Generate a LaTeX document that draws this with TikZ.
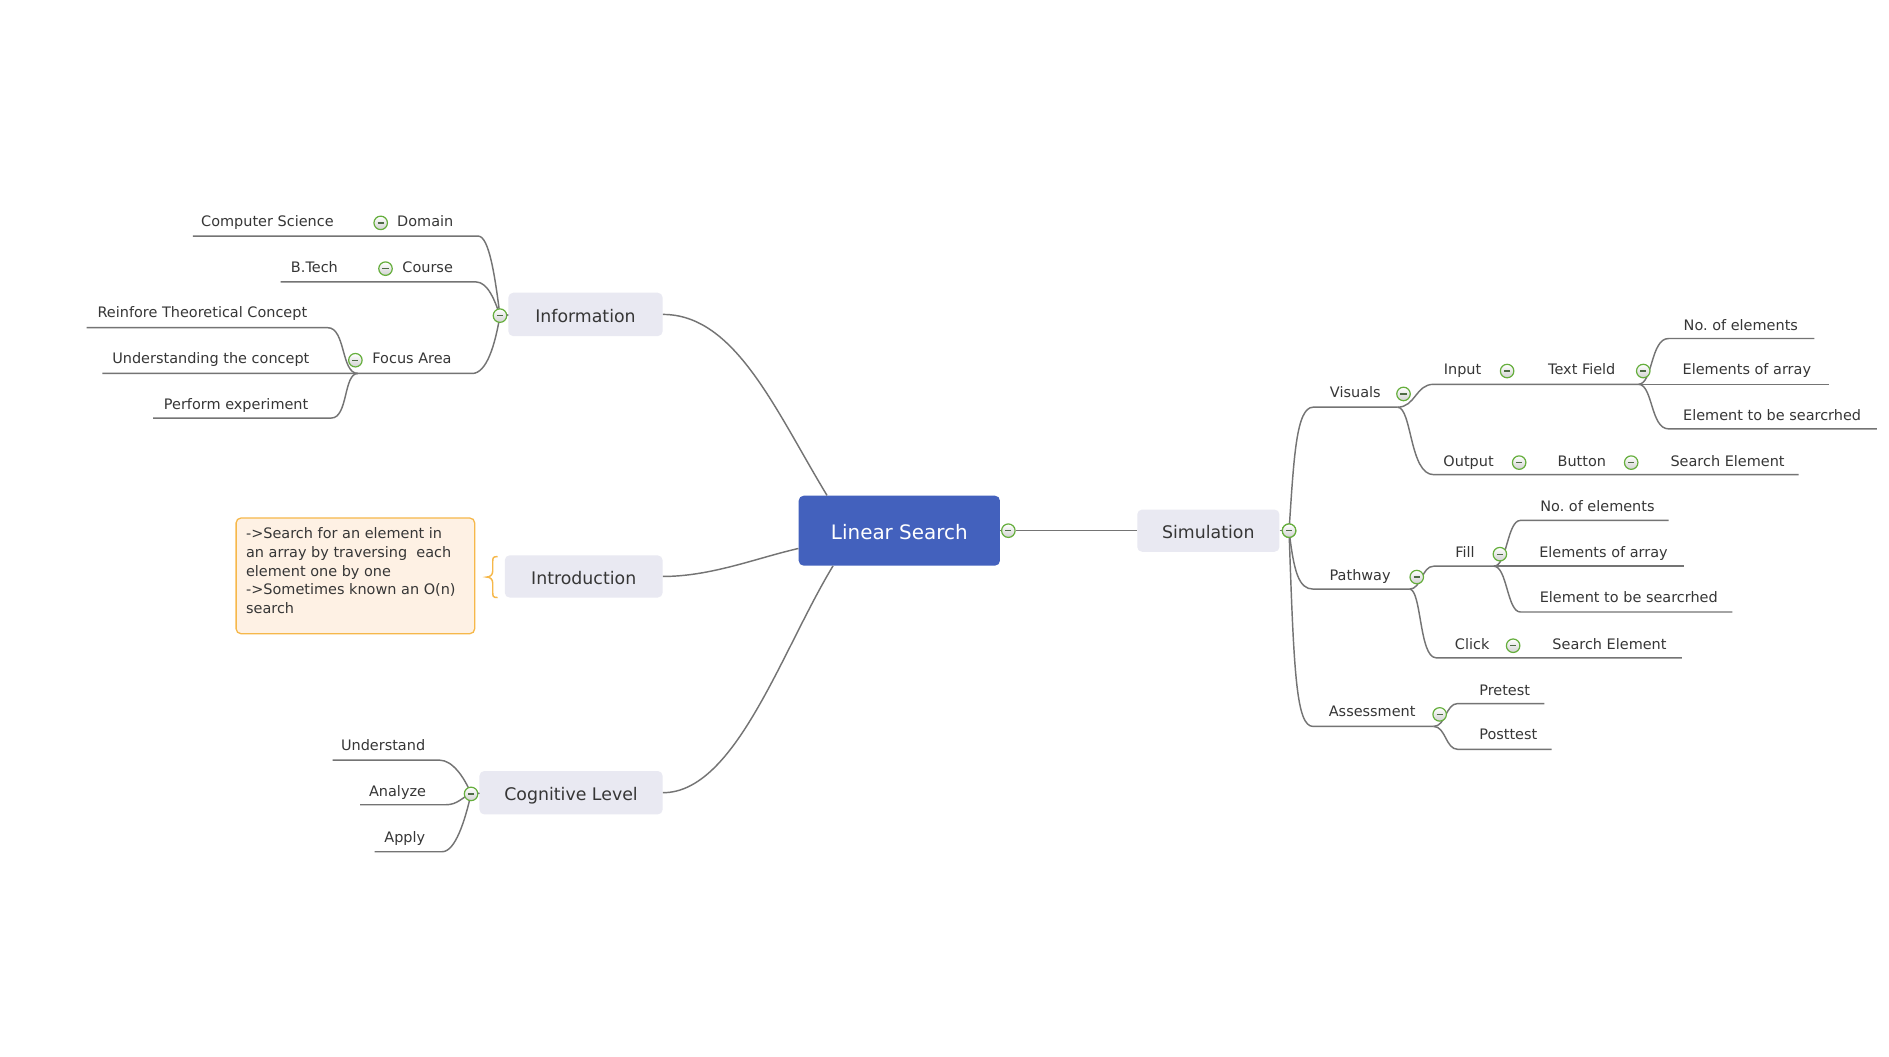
\documentclass[tikz,border=0pt]{standalone}
\usepackage{fontspec}
\setmainfont{DejaVu Sans}
\frenchspacing
\definecolor{connc}{HTML}{747474}
\definecolor{txtc}{HTML}{363636}
\definecolor{topicfill}{HTML}{E9E9F2}
\definecolor{lsblue}{HTML}{4361BD}
\definecolor{notefill}{HTML}{FEF1E4}
\definecolor{notedraw}{HTML}{F6B84A}
\definecolor{btngreen}{HTML}{65AE3C}
\definecolor{minusc}{HTML}{4E6B45}
\newcommand{\mymin}{\textcolor{minusc}{\rule{3.8pt}{0.8pt}}}
\tikzset{
  conn/.style={draw=connc, line width=0.9pt},
  lbl/.style={font=\fontsize{9}{10}\selectfont, text=txtc, inner sep=0pt, text height=6.6pt, text depth=2pt, yshift=-1.4pt},
  topic/.style={fill=topicfill, rounded corners=3pt, inner sep=0pt, font=\fontsize{10.8}{12}\selectfont, text=txtc,
    text height=10pt, text depth=0pt},
  btn/.style={circle, draw=btngreen, line width=0.75pt, minimum size=8.4pt, inner sep=0pt,
    top color=white, bottom color=black!18},
}
\begin{document}
\begin{tikzpicture}[x=0.75pt,y=-0.75pt]
\useasboundingbox (0,0) rectangle (1568,877);
\fill[white] (0,0) rectangle (1568,877);

% ---------------- central ----------------
\node[fill=lsblue, rounded corners=3pt, minimum width=125.25pt, minimum height=43.5pt, inner sep=0pt,
  text=white, font=\fontsize{12.4}{14}\selectfont, text height=11pt, text depth=0pt] (ls) at (746.5,440.5) {Linear Search};
\node[topic, minimum width=96pt, minimum height=27pt] (info) at (486,261) {Information};
\node[topic, minimum width=98.25pt, minimum height=26.25pt] (intro) at (484.5,478.5) {Introduction};
\node[topic, minimum width=114pt, minimum height=27pt] (cog) at (474,658) {Cognitive Level};
\node[topic, minimum width=88.5pt, minimum height=26.25pt] (sim) at (1003,440.5) {Simulation};

\draw[conn] (info.east) .. controls +(60,0) and +(-43,-71) .. (ls.154);
\draw[conn] (intro.east) .. controls +(40,0) and +(-35,8) .. (ls.190);
\draw[conn] (cog.east) .. controls +(60,0) and +(-43,71) .. (ls.208);

\node[btn] (bls) at (837,440.5) {\mymin};
\node[btn] (bsim) at (1070,440.5) {\mymin};
\draw[conn] (ls.east) -- (bls.west);
\draw[conn] (bls.east) -- (sim.west);
\draw[conn] (sim.east) -- (bsim.west);

% ---------------- Information branch ----------------
\coordinate (dom-l) at (160,196); \coordinate (dom-r) at (397,196);
\coordinate (crs-l) at (233,234); \coordinate (crs-r) at (395,234);
\coordinate (foc-l) at (297,310); \coordinate (foc-r) at (392,310);
\coordinate (rei-l) at (72,272);  \coordinate (rei-r) at (272,272);
\coordinate (und-l) at (85,310);
\coordinate (per-l) at (127,347); \coordinate (per-r) at (275,347);
\coordinate (jinfo) at (415,262);

\draw[conn] (dom-l) -- (dom-r) .. controls +(9,0) and +(-4,-32) .. (jinfo);
\draw[conn] (crs-l) -- (crs-r) .. controls +(10,0) and +(-4,-12) .. (jinfo);
\draw[conn] (und-l) -- (foc-r) .. controls +(12,0) and +(-4,24) .. (jinfo);
\draw[conn] (rei-l) -- (rei-r) .. controls +(15,0) and +(-14,0) .. (foc-l);
\draw[conn] (per-l) -- (per-r) .. controls +(14,0) and +(-12,0) .. (foc-l);

\node[btn] (binfo) at (jinfo) {\mymin};
\draw[conn] (binfo.east) -- (info.west);
\node[lbl] (tcs) at (222,183) {Computer Science};
\node[lbl] (tdom) at (353,183) {Domain};
\node[btn] (bdom) at (316,185) {\mymin};
\node[lbl] (tbt) at (261,221) {B.Tech};
\node[lbl] (tcrs) at (355,221) {Course};
\node[btn] (bcrs) at (320,223) {\mymin};
\node[lbl] (trei) at (168,259) {Reinfore Theoretical Concept};
\node[lbl] (tund) at (175,297) {Understanding the concept};
\node[lbl] (tfoc) at (342,297) {Focus Area};
\node[btn] (bfoc) at (295,299) {\mymin};
\node[lbl] (tper) at (196,335) {Perform experiment};

% ---------------- Introduction note ----------------
\node[draw=notedraw, fill=notefill, line width=0.8pt, rounded corners=3pt, minimum width=148.5pt,
  minimum height=72pt, inner sep=0pt] (note) at (295,478) {};
\node[anchor=north west, inner sep=0pt, align=left, text=txtc,
  font=\fontsize{9}{11.6}\selectfont] (notetext) at (204,438)
  {->Search for an element in\\an array by traversing~ each\\element one by one\\->Sometimes known an O(n)\\search};
\coordinate (br-t) at (413,462);
\coordinate (br-b) at (413,496);
\draw[notedraw, line width=0.9pt] (br-t) .. controls +(-4,0) and +(0,-4) .. (409,467) -- (409,474)
  .. controls +(0,3) and +(3,0) .. (404,479) .. controls +(3,0) and +(0,-3) .. (409,484)
  -- (409,491) .. controls +(0,4) and +(-4,0) .. (br-b);

% ---------------- Cognitive branch ----------------
\coordinate (jcog) at (391,659);
\coordinate (usd-l) at (276,631); \coordinate (usd-r) at (365,631);
\coordinate (ana-l) at (299,668); \coordinate (ana-r) at (370,668);
\coordinate (app-l) at (311,707); \coordinate (app-r) at (367,707);
\draw[conn] (usd-l) -- (usd-r) .. controls +(10,0) and +(-6,-15) .. (jcog);
\draw[conn] (ana-l) -- (ana-r) .. controls +(10,0) and +(-8,3) .. (jcog);
\draw[conn] (app-l) -- (app-r) .. controls +(11,0) and +(-5,22) .. (jcog);
\node[btn] (bcog) at (jcog) {\mymin};
\draw[conn] (bcog.east) -- (cog.west);
\node[lbl] (tusd) at (318,618) {Understand};
\node[lbl] (tana) at (330,656) {Analyze};
\node[lbl] (tapp) at (336,694) {Apply};

% ---------------- Simulation branch ----------------
\coordinate (vis-l) at (1090,338); \coordinate (vis-r) at (1160,338);
\coordinate (pat-l) at (1090,489); \coordinate (pat-r) at (1170,489);
\coordinate (ass-l) at (1090,603); \coordinate (ass-r) at (1190,603);
\draw[conn] (bsim.center) .. controls +(4,-61) and +(-14,0) .. (vis-l) -- (vis-r);
\draw[conn] (bsim.center) .. controls +(4,34) and +(-12,0) .. (pat-l) -- (pat-r);
\draw[conn] (bsim.center) .. controls +(4,119) and +(-14,0) .. (ass-l) -- (ass-r);
\node[btn] at (bsim) {\mymin};

% Visuals
\coordinate (inp-l) at (1190,319); \coordinate (tf-r) at (1360,319);
\coordinate (out-l) at (1190,394); \coordinate (out-r) at (1493,394);
\draw[conn] (vis-r) .. controls +(15,0) and +(-15,0) .. (inp-l) -- (tf-r);
\draw[conn] (vis-r) .. controls +(12,0) and +(-20,0) .. (out-l) -- (out-r);
\coordinate (noe1-l) at (1385,281); \coordinate (noe1-r) at (1506,281);
\coordinate (eoa1-r) at (1518,319);
\coordinate (ets1-l) at (1385,356); \coordinate (ets1-r) at (1558,356);
\draw[conn] (tf-r) .. controls +(12,0) and +(-15,0) .. (noe1-l) -- (noe1-r);
\draw[conn] (tf-r) -- (eoa1-r);
\draw[conn] (tf-r) .. controls +(12,0) and +(-15,0) .. (ets1-l) -- (ets1-r);

% Pathway
\coordinate (fill-l) at (1190,470); \coordinate (fill-r) at (1240,470);
\coordinate (clk-l) at (1192,546); \coordinate (clk-r) at (1396,546);
\draw[conn] (pat-r) .. controls +(10,0) and +(-10,0) .. (fill-l) -- (fill-r);
\draw[conn] (pat-r) .. controls +(10,0) and +(-14,0) .. (clk-l) -- (clk-r);
\coordinate (noe2-l) at (1262,432); \coordinate (noe2-r) at (1385,432);
\coordinate (eoa2-r) at (1398,470);
\coordinate (ets2-l) at (1262,508); \coordinate (ets2-r) at (1438,508);
\draw[conn] (fill-r) .. controls +(11,0) and +(-11,0) .. (noe2-l) -- (noe2-r);
\draw[conn] (fill-r) -- (eoa2-r);
\draw[conn] (fill-r) .. controls +(11,0) and +(-11,0) .. (ets2-l) -- (ets2-r);

% Assessment
\coordinate (pre-l) at (1210,584); \coordinate (pre-r) at (1282,584);
\coordinate (pos-l) at (1210,622); \coordinate (pos-r) at (1288,622);
\draw[conn] (ass-r) .. controls +(10,0) and +(-10,0) .. (pre-l) -- (pre-r);
\draw[conn] (ass-r) .. controls +(10,0) and +(-10,0) .. (pos-l) -- (pos-r);

% labels right
\node[lbl] (tvis) at (1125,325) {Visuals};
\node[btn] (bvis) at (1165,327) {\mymin};
\node[lbl] (tinp) at (1214,306) {Input};
\node[btn] (binp) at (1251,308) {\mymin};
\node[lbl] (ttf) at (1313,306) {Text Field};
\node[btn] (btf) at (1364,308) {\mymin};
\node[lbl] (tnoe1) at (1445,269) {No. of elements};
\node[lbl] (teoa1) at (1450,306) {Elements of array};
\node[lbl] (tets1) at (1471,344) {Element to be searcrhed};
\node[lbl] (tout) at (1219,382) {Output};
\node[btn] (bout) at (1261,384) {\mymin};
\node[lbl] (tbtn) at (1313,382) {Button};
\node[btn] (bbtn) at (1354,384) {\mymin};
\node[lbl] (tse1) at (1434,382) {Search Element};
\node[lbl] (tpat) at (1129,477) {Pathway};
\node[btn] (bpat) at (1176,479) {\mymin};
\node[lbl] (tfill) at (1216,458) {Fill};
\node[btn] (bfill) at (1245,460) {\mymin};
\node[lbl] (tnoe2) at (1326,420) {No. of elements};
\node[lbl] (teoa2) at (1331,458) {Elements of array};
\node[lbl] (tets2) at (1352,495) {Element to be searcrhed};
\node[lbl] (tclk) at (1222,534) {Click};
\node[btn] (bclk) at (1256,536) {\mymin};
\node[lbl] (tse2) at (1336,534) {Search Element};
\node[lbl] (tass) at (1139,590) {Assessment};
\node[btn] (bass) at (1195,593) {\mymin};
\node[lbl] (tpre) at (1249,572) {Pretest};
\node[lbl] (tpos) at (1252,609) {Posttest};
\end{tikzpicture}
\end{document}
